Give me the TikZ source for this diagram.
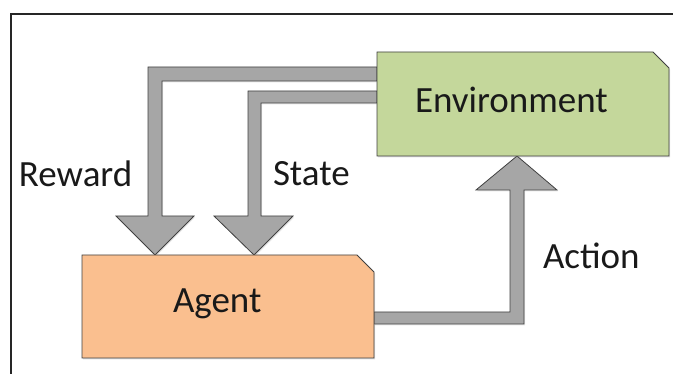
\documentclass[tikz,border=0pt]{standalone}
\usepackage{fontspec}
\setmainfont{Carlito}
\usetikzlibrary{shadows}
\definecolor{envgreen}{HTML}{C4D79B}
\definecolor{agentorange}{HTML}{FABF8F}
\definecolor{flowgray}{HTML}{A6A6A6}
\definecolor{edgegray}{HTML}{404040}
\tikzset{
  holder/.style={minimum width=#1, inner sep=0pt, outer sep=0pt},
  boxshape/.style={draw=edgegray, line width=0.9pt, line join=miter,
    drop shadow={shadow xshift=1.2pt, shadow yshift=-1.5pt, opacity=0.25}},
  blockarrow/.style={fill=flowgray, draw=edgegray, line width=0.8pt, line join=miter,
    drop shadow={shadow xshift=1pt, shadow yshift=-1.5pt, opacity=0.2}},
  lbl/.style={anchor=base west, inner sep=0pt, outer sep=0pt,
    font=\fontsize{37}{40}\selectfont, text=black!90}
}
\begin{document}
\begin{tikzpicture}[x=1pt, y=-1pt]
\useasboundingbox (0,0) rectangle (673,374);

% placeholders giving the two boxes their names and extents
\node[holder=292pt, minimum height=104pt] (env) at (523,104) {};
\node[holder=292pt, minimum height=103pt] (agent) at (228,306.5) {};

% Reward: from the environment down onto the agent
\path[blockarrow] (env.west |- 0,67) -- (148,67) -- (148,216) -- (116,216)
  -- (155,0 |- agent.north) -- (194,216) -- (162,216) -- (162,81)
  -- (env.west |- 0,81) -- cycle;
% State
\path[blockarrow] (env.west |- 0,91) -- (248,91) -- (248,216) -- (214,216)
  -- (254,0 |- agent.north) -- (293,216) -- (261,216) -- (261,103)
  -- (env.west |- 0,103) -- cycle;
% Action: from the agent up into the environment
\path[blockarrow] (agent.east |- 0,312) -- (510,312) -- (510,190) -- (476,190)
  -- (517,0 |- env.south) -- (557,190) -- (524,190) -- (524,324)
  -- (agent.east |- 0,324) -- cycle;

% boxes with one clipped corner
\path[boxshape, fill=envgreen] (env.south west) -- (env.north west)
  -- ([xshift=-16pt]env.north east) -- ([yshift=-16pt]env.north east)
  -- (env.south east) -- cycle;
\path[boxshape, fill=agentorange] (agent.south west) -- (agent.north west)
  -- ([xshift=-17pt]agent.north east) -- ([yshift=-17pt]agent.north east)
  -- (agent.south east) -- cycle;

% texts
\node[lbl] (envtext) at (415,113) {Environment};
\node[lbl] (agenttext) at (173,313) {Agent};
\node[lbl] (reward) at (19,187) {Reward};
\node[lbl] (state) at (273,186) {State};
\node[lbl] (action) at (543,269) {Action};

% outer frame
\draw[line width=1.6pt, black!85] (10.8,374) -- (10.8,13.8) -- (673,13.8);
\end{tikzpicture}
\end{document}
